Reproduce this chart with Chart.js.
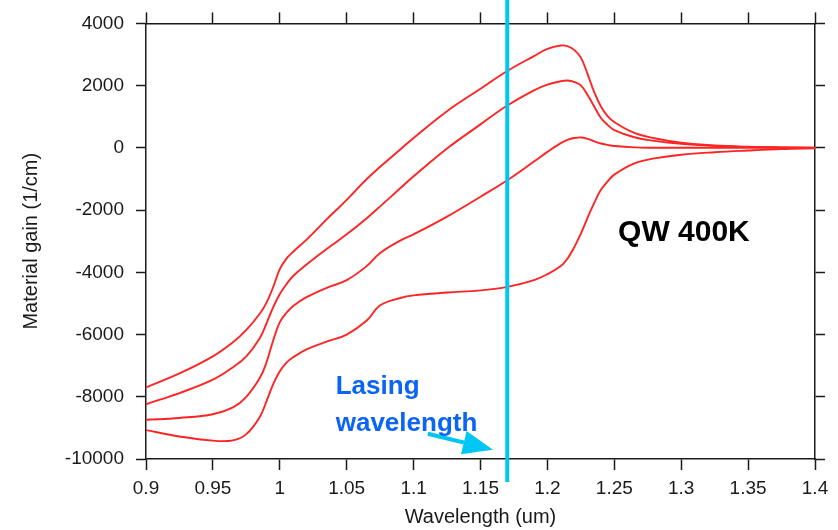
<!DOCTYPE html>
<html>
<head>
<meta charset="utf-8">
<title>QW 400K material gain</title>
<script src="https://cdn.jsdelivr.net/npm/chart.js@4.4.1/dist/chart.umd.min.js"></script>
<style>
  html, body { margin: 0; padding: 0; background: #fff; }
  canvas { display: block; }
</style>
</head>
<body>
<canvas id="chartGain" width="838" height="530"></canvas>
<script>
// wavelength (um) shared by the four curves
const wavelength = [0.9, 0.925, 0.95, 0.965, 0.975, 0.985, 0.99, 0.995, 1.0, 1.005,
    1.01, 1.02, 1.035, 1.05, 1.065, 1.075, 1.09, 1.1, 1.125, 1.15,
    1.17, 1.19, 1.2, 1.21, 1.215, 1.22, 1.225, 1.23, 1.235, 1.24,
    1.245, 1.25, 1.265, 1.28, 1.3, 1.325, 1.35, 1.375, 1.4];

// material gain (1/cm), top curve to bottom curve
const gain1 = [-7700, -7250, -6700, -6250, -5850, -5330, -4980, -4480, -3900, -3560,
    -3340, -2950, -2300, -1670, -1000, -610, -50, 320, 1180, 1900,
    2470, 2950, 3180, 3290, 3270, 3150, 2900, 2380, 1790, 1330,
    1020, 830, 480, 310, 165, 75, 35, 15, 5];
const gain2 = [-8240, -7880, -7450, -7050, -6700, -6120, -5650, -5130, -4700, -4380,
    -4120, -3750, -3250, -2780, -2260, -1880, -1300, -915, -20, 755,
    1360, 1850, 2030, 2140, 2165, 2120, 2010, 1700, 1330, 960,
    740, 570, 340, 225, 130, 65, 30, 12, 5];
const gain3 = [-8740, -8680, -8560, -8340, -8000, -7400, -6900, -6200, -5600, -5300,
    -5080, -4800, -4500, -4250, -3800, -3380, -2980, -2780, -2210, -1570,
    -1040, -440, -130, 150, 255, 315, 335, 290, 210, 140,
    95, 60, 15, 5, 5, 3, 2, 1, 0];
const gain4 = [-9070, -9275, -9410, -9400, -9200, -8650, -8150, -7600, -7180, -6900,
    -6730, -6480, -6230, -6000, -5550, -5060, -4825, -4740, -4650, -4580,
    -4470, -4250, -4060, -3800, -3560, -3200, -2760, -2250, -1770, -1350,
    -1080, -860, -500, -340, -220, -140, -85, -40, -15];

const xTicks = [0.9, 0.95, 1, 1.05, 1.1, 1.15, 1.2, 1.25, 1.3, 1.35, 1.4];
const yTicks = [-10000, -8000, -6000, -4000, -2000, 0, 2000, 4000];

const lasingWavelength = 1.17;
const lasingLabel = ['Lasing', 'wavelength'];
const lasingLabelPos = [1.0418, -7900];   // [um, 1/cm], first baseline
const arrowFrom = [1.1106, -9190];
const arrowTo = [1.1593, -9700];
const tempLabel = 'QW 400K';
const tempLabelPos = [1.2528, -2980];

const ctx = document.getElementById('chartGain').getContext('2d');

const toPoints = (vals) => wavelength.map((w, i) => ({ x: w, y: vals[i] }));

const curve = (vals) => ({
    data: toPoints(vals),
    borderColor: '#ff2424',
    borderWidth: 1.9,
    pointRadius: 0,
    fill: false,
    tension: 0.4
});

const tickFont = { family: 'Liberation Sans, Arial, sans-serif', size: 19 };
const titleFont = { family: 'Liberation Sans, Arial, sans-serif', size: 20 };
const fmt = (v) => String(+v.toFixed(2));

const frameGrid = (len) => ({
    drawOnChartArea: false,
    drawTicks: true,
    tickLength: len,
    tickColor: '#1a1a1a',
    tickWidth: 1.5
});
const frameBorder = { display: true, color: '#1a1a1a', width: 1.5 };

const annotations = {
    id: 'annotations',
    afterDraw(chart) {
        const { ctx, scales: { x, y } } = chart;
        ctx.save();

        // lasing wavelength marker
        const lx = x.getPixelForValue(lasingWavelength);
        ctx.strokeStyle = '#00c6f5';
        ctx.lineWidth = 4;
        ctx.beginPath();
        ctx.moveTo(lx, 0);
        ctx.lineTo(lx, y.bottom + 23);
        ctx.stroke();

        // arrow
        const x0 = x.getPixelForValue(arrowFrom[0]), y0 = y.getPixelForValue(arrowFrom[1]);
        const x1 = x.getPixelForValue(arrowTo[0]), y1 = y.getPixelForValue(arrowTo[1]);
        const ang = Math.atan2(y1 - y0, x1 - x0);
        const head = 30, half = 12;
        const bx = x1 - head * Math.cos(ang), by = y1 - head * Math.sin(ang);
        ctx.strokeStyle = '#00c6f5';
        ctx.fillStyle = '#00c6f5';
        ctx.lineWidth = 4;
        ctx.beginPath();
        ctx.moveTo(x0, y0);
        ctx.lineTo(bx, by);
        ctx.stroke();
        ctx.beginPath();
        ctx.moveTo(x1, y1);
        ctx.lineTo(bx + half * Math.sin(ang), by - half * Math.cos(ang));
        ctx.lineTo(bx - half * Math.sin(ang), by + half * Math.cos(ang));
        ctx.closePath();
        ctx.fill();

        // labels
        ctx.textAlign = 'left';
        ctx.textBaseline = 'alphabetic';
        ctx.fillStyle = '#0a64f5';
        ctx.font = 'bold 26px "Liberation Sans", Arial, sans-serif';
        const tx = x.getPixelForValue(lasingLabelPos[0]);
        const ty = y.getPixelForValue(lasingLabelPos[1]);
        lasingLabel.forEach((t, i) => ctx.fillText(t, tx, ty + i * 37));

        ctx.fillStyle = '#000';
        ctx.font = 'bold 30px "Liberation Sans", Arial, sans-serif';
        ctx.fillText(tempLabel, x.getPixelForValue(tempLabelPos[0]), y.getPixelForValue(tempLabelPos[1]));

        ctx.restore();
    }
};

const chartGain = new Chart(ctx, {
    type: 'line',
    data: {
        datasets: [curve(gain1), curve(gain2), curve(gain3), curve(gain4)]
    },
    options: {
        responsive: false,
        animation: false,
        devicePixelRatio: 1,
        layout: { padding: 0 },
        plugins: {
            legend: { display: false },
            tooltip: { enabled: false }
        },
        scales: {
            x: {
                type: 'linear',
                position: 'bottom',
                min: 0.9,
                max: 1.4,
                afterBuildTicks: (s) => { s.ticks = xTicks.map(v => ({ value: v })); },
                afterFit: (s) => { s.height = 71; },
                grid: frameGrid(11),
                border: frameBorder,
                ticks: {
                    color: '#1a1a1a',
                    font: tickFont,
                    padding: 7,
                    maxRotation: 0,
                    autoSkip: false,
                    callback: fmt
                },
                title: {
                    display: true,
                    text: 'Wavelength (um)',
                    color: '#1a1a1a',
                    font: titleFont,
                    padding: { top: 0, bottom: 1 }
                }
            },
            xTop: {
                type: 'linear',
                position: 'top',
                min: 0.9,
                max: 1.4,
                afterBuildTicks: (s) => { s.ticks = xTicks.map(v => ({ value: v })); },
                afterFit: (s) => { s.height = 22; },
                grid: frameGrid(11),
                border: frameBorder,
                ticks: { display: false }
            },
            y: {
                type: 'linear',
                position: 'left',
                min: -10000,
                max: 4000,
                afterBuildTicks: (s) => { s.ticks = yTicks.map(v => ({ value: v })); },
                afterFit: (s) => { s.width = 146; },
                grid: frameGrid(10),
                border: frameBorder,
                ticks: {
                    color: '#1a1a1a',
                    font: tickFont,
                    padding: 12,
                    autoSkip: false,
                    callback: (v) => String(v)
                },
                title: {
                    display: true,
                    text: 'Material gain (1/cm)',
                    color: '#1a1a1a',
                    font: titleFont,
                    padding: { top: 19, bottom: 0 }
                }
            },
            yRight: {
                type: 'linear',
                position: 'right',
                min: -10000,
                max: 4000,
                afterBuildTicks: (s) => { s.ticks = yTicks.map(v => ({ value: v })); },
                afterFit: (s) => { s.width = 23; },
                grid: frameGrid(10),
                border: frameBorder,
                ticks: { display: false }
            }
        }
    },
    plugins: [annotations]
});
</script>
</body>
</html>
